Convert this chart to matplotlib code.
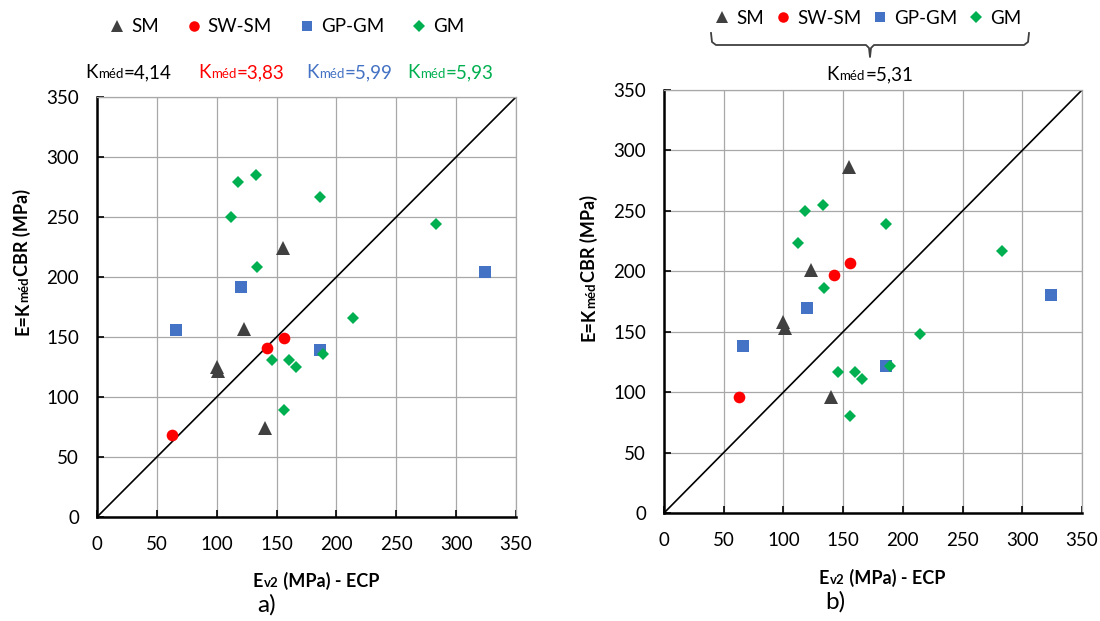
import matplotlib
matplotlib.use('Agg')
import matplotlib.pyplot as plt
from matplotlib.lines import Line2D

plt.rcParams['font.family'] = ['Lato', 'DejaVu Sans']

W, H = 1100, 621

# Ev2 (x) and E = Kmed*CBR (y) for each soil group; _a -> panel a), _b -> panel b)
sm_ev2 = [100, 101, 123, 140, 155]
sm_e_a = [125, 122, 157, 74, 224]
sm_e_b = [158, 153, 201, 96, 286]

swsm_ev2 = [63, 142, 156]
swsm_e_a = [68, 141, 149]
swsm_e_b = [96, 197, 207]

gpgm_ev2 = [66, 120, 186, 324]
gpgm_e_a = [156, 192, 139, 204]
gpgm_e_b = [138, 170, 122, 180]

gm_ev2 = [118, 133, 186, 112, 134, 146, 160, 166, 189, 156, 214, 283]
gm_e_a = [279, 285, 267, 250, 208, 131, 131, 125, 136, 89, 166, 244]
gm_e_b = [250, 255, 239, 223, 186, 117, 117, 111, 122, 80, 148, 217]

group_names = ['SM', 'SW-SM', 'GP-GM', 'GM']
k_med_a = ['4,14', '3,83', '5,99', '5,93']
k_med_b = '5,31'
ticks = [0, 50, 100, 150, 200, 250, 300, 350]
one_to_one = [0, 350]

styles = [('^', '#404040', 9.5), ('o', '#ff0000', 8.4),
          ('s', '#4472c4', 8.4), ('D', '#00b050', 6.6)]
colors = [s[1] for s in styles]

fig = plt.figure(figsize=(11, 6.21), dpi=100)


def px(x, y):
    return x / W, 1 - y / H


def rich_text(x, y, parts, ha='left', rotation=0):
    # parts: (text, size, color, weight); glued one after another on a baseline
    r = fig.canvas.get_renderer()
    items = []
    for s, size, color, weight in parts:
        t = fig.text(0, 0, s, fontsize=size, color=color, fontweight=weight,
                     rotation=rotation, rotation_mode='anchor',
                     ha='left', va='baseline')
        ext = t.get_window_extent(r)
        items.append((t, ext.width if rotation == 0 else ext.height))
    total = sum(w for _, w in items) + 0.6 * (len(items) - 1)
    pos = x - total / 2 if ha == 'center' else x
    if rotation:
        pos = y + total / 2
    for t, w in items:
        if rotation == 0:
            t.set_position(px(pos, y))
            pos += w + 0.6
        else:
            t.set_position(px(x, pos))
            pos -= w + 0.6


def draw_panel(ax, series):
    for (xs, ys), name, (m, c, ms) in zip(series, group_names, styles):
        ax.plot(xs, ys, linestyle='none', marker=m, color=c, markersize=ms,
                markeredgewidth=0, label=name, zorder=3)
    ax.plot(one_to_one, one_to_one, color='black', lw=1.2, zorder=2)
    ax.set_xlim(0, 350)
    ax.set_ylim(0, 350)
    ax.set_xticks(ticks)
    ax.set_yticks(ticks)
    ax.grid(True, color='#a8a8a8', lw=0.9)
    ax.set_axisbelow(True)
    for side in ['left', 'bottom']:
        ax.spines[side].set_linewidth(1.8)
        ax.spines[side].set_color('black')
    for side in ['top', 'right']:
        ax.spines[side].set_linewidth(0.9)
        ax.spines[side].set_color('#a8a8a8')
    ax.tick_params(direction='in', length=5, width=1.2, labelsize=13.5,
                   colors='black')
    ax.tick_params(axis='x', pad=14)
    ax.tick_params(axis='y', pad=13)


ax1 = fig.add_axes([97 / W, 1 - 517 / H, 419 / W, 420 / H])
draw_panel(ax1, [(sm_ev2, sm_e_a), (swsm_ev2, swsm_e_a),
                 (gpgm_ev2, gpgm_e_a), (gm_ev2, gm_e_a)])
ax1.legend(loc='center', bbox_to_anchor=(0.453, 1.167), ncol=4, frameon=False,
           fontsize=13.5, handlelength=0.8, handletextpad=0.35,
           columnspacing=1.45, markerscale=0.9)

ax2 = fig.add_axes([664 / W, 1 - 513 / H, 418 / W, 423 / H])
draw_panel(ax2, [(sm_ev2, sm_e_b), (swsm_ev2, swsm_e_b),
                 (gpgm_ev2, gpgm_e_b), (gm_ev2, gm_e_b)])
ax2.legend(loc='center', bbox_to_anchor=(0.488, 1.170), ncol=4, frameon=False,
           fontsize=13.5, handlelength=0.8, handletextpad=0.35,
           columnspacing=0.6, markerscale=0.9)

# Kméd labels, panel a)
for x0, k, c in zip([85, 198, 306, 407], k_med_a, ['black'] + colors[1:]):
    rich_text(x0, 78, [('K', 13.5, c, 'normal'), ('méd', 9.5, c, 'normal'),
                       ('=' + k, 13.5, c, 'normal')])

# brace + Kméd, panel b)
bx = [711, 712, 716, 866, 869, 870, 871, 874, 1024, 1028, 1029]
by = [33, 42, 45, 45, 48, 57, 48, 45, 45, 42, 33]
fig.add_artist(Line2D([x / W for x in bx], [1 - y / H for y in by],
                      color='#404040', lw=1.3))
rich_text(870, 80, [('K', 13.5, 'black', 'normal'), ('méd', 9.5, 'black', 'normal'),
                    ('=' + k_med_b, 13.5, 'black', 'normal')], ha='center')

# axis titles
for xc, yb in [(316, 587), (882, 584)]:
    rich_text(xc, yb, [('E', 13, 'black', 'bold'), ('v2', 9.5, 'black', 'bold'),
                       (' (MPa) - ECP', 13, 'black', 'bold')], ha='center')
for xb, yc in [(28, 262), (595, 268)]:
    rich_text(xb, yc, [('E=K', 13, 'black', 'bold'), ('méd', 9.5, 'black', 'bold'),
                       ('CBR (MPa)', 13, 'black', 'bold')], rotation=90)

fig.text(*px(267, 605), 'a)', fontsize=17.5, ha='center', va='center')
fig.text(*px(835, 602), 'b)', fontsize=17.5, ha='center', va='center')

fig.savefig('out.png', dpi=100)
